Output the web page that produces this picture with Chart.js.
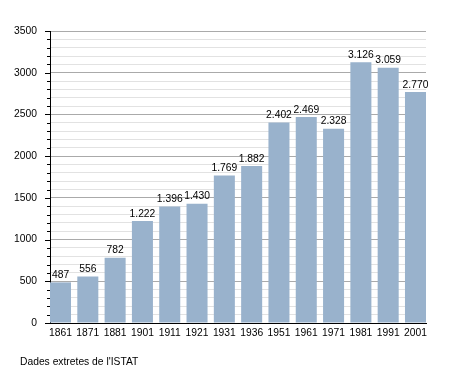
<!DOCTYPE html>
<html>
<head>
<meta charset="utf-8">
<script src="https://cdn.jsdelivr.net/npm/chart.js@4"></script>
<style>
  html, body { margin: 0; padding: 0; background: #fff; }
  #wrap { position: relative; width: 455px; height: 373px; }
  #note { position: absolute; left: 20px; top: 356px; font: 10.3px "Liberation Sans", Arial, sans-serif; color: #000; }
</style>
</head>
<body>
<div id="wrap">
  <canvas id="chart" width="455" height="373"></canvas>
  <div id="note">Dades extretes de l'ISTAT</div>
</div>
<script>
// anys del cens i habitants
const years = ['1861', '1871', '1881', '1901', '1911', '1921', '1931', '1936', '1951', '1961', '1971', '1981', '1991', '2001'];
const population = [487, 556, 782, 1222, 1396, 1430, 1769, 1882, 2402, 2469, 2328, 3126, 3059, 2770];
const yMax = 3500;
const yStep = 100;
const yLabelStep = 500;

const FONT = '"Liberation Sans", Arial, sans-serif';
const fmt = n => n >= 1000 ? Math.floor(n / 1000) + '.' + String(n % 1000).padStart(3, '0') : String(n);

// les barres toquen els dos extrems de l'àrea del gràfic
const BAR_PCT = 0.77;
const half = BAR_PCT / 2;

// etiquetes de valor damunt de cada barra + marques de l'eix Y
const extras = {
  id: 'extras',
  afterDatasetsDraw(chart) {
    const ctx = chart.ctx;
    const meta = chart.getDatasetMeta(0);
    ctx.save();
    ctx.fillStyle = '#000';
    ctx.font = '10.3px ' + FONT;
    ctx.textAlign = 'center';
    ctx.textBaseline = 'bottom';
    meta.data.forEach((bar, i) => {
      ctx.fillText(fmt(population[i]), bar.x, bar.y - 2);
    });
    const y = chart.scales.y;
    ctx.strokeStyle = '#000';
    ctx.lineWidth = 1;
    for (let v = 0; v <= yMax; v += yStep) {
      const py = Math.round(y.getPixelForValue(v)) + 0.5;
      const len = v % yLabelStep === 0 ? 5 : 3;
      ctx.beginPath();
      ctx.moveTo(y.right - len, py);
      ctx.lineTo(y.right, py);
      ctx.stroke();
    }
    ctx.restore();
  }
};

new Chart(document.getElementById('chart'), {
  type: 'bar',
  data: {
    datasets: [{
      data: population.map((v, i) => ({ x: i + 1, y: v })),
      backgroundColor: '#99b2cc',
      borderWidth: 0,
      barPercentage: BAR_PCT,
      categoryPercentage: 1
    }]
  },
  options: {
    responsive: false,
    animation: false,
    layout: { padding: { left: 0, top: 31, right: 29, bottom: 0 } },
    plugins: { legend: { display: false }, tooltip: { enabled: false } },
    scales: {
      x: {
        type: 'linear',
        min: 1 - half, max: years.length + half,
        offset: false,
        grid: { display: false, drawTicks: false },
        border: { color: '#000', width: 1 },
        afterBuildTicks: s => { s.ticks = years.map((_, i) => ({ value: i + 1 })); },
        ticks: {
          color: '#000', font: { family: FONT, size: 10.3 }, padding: 4, maxRotation: 0, autoSkip: false,
          callback: v => years[v - 1]
        },
        afterFit: s => { s.height = 50; }
      },
      y: {
        min: 0, max: yMax,
        grid: {
          color: c => c.tick && c.tick.value % yLabelStep === 0 ? '#aaaaaa' : '#e2e2e2',
          drawTicks: true, tickLength: 5, tickColor: 'transparent'
        },
        border: { color: '#000', width: 1 },
        ticks: {
          stepSize: yStep, autoSkip: false, color: '#000', padding: 8,
          font: { family: FONT, size: 10.3 },
          callback: v => v % yLabelStep === 0 ? v : ''
        },
        afterFit: s => { s.width = 50; }
      }
    }
  },
  plugins: [extras]
});
</script>
</body>
</html>
